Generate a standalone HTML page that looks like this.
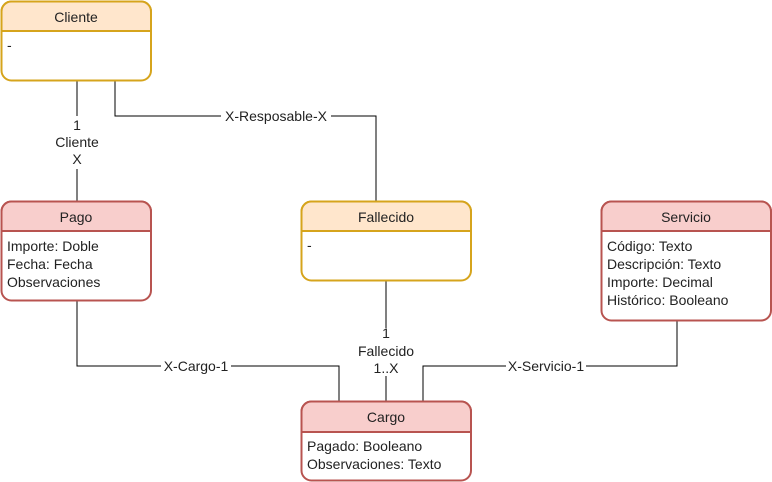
<!DOCTYPE html>
<html><head><meta charset="utf-8"><style>
body{margin:0;background:#fff;}
svg{display:block;font-family:"Liberation Sans",Arial,sans-serif;font-size:14px;}
</style></head><body>
<svg width="772" height="482" viewBox="0 0 772 482" xmlns="http://www.w3.org/2000/svg">
<g fill="none" stroke="#000" stroke-width="1">
<path d="M77 81V116M77 169V201"/>
<path d="M115 81V116H376V201"/>
<path d="M386 281V328M386 376V401"/>
<path d="M77 300V366H339V401"/>
<path d="M677 321V366H423V401"/>
</g>
<g text-anchor="middle" fill="#222">
<rect x="221" y="108" width="110" height="16" fill="#fff"/>
<text x="276" y="121">X-Resposable-X</text>
<text x="77" y="130">1</text><text x="77" y="147">Cliente</text><text x="77" y="164">X</text>
<text x="386" y="338">1</text><text x="386" y="356">Fallecido</text><text x="386" y="373">1..X</text>
<rect x="161" y="358" width="70" height="16" fill="#fff"/>
<text x="196" y="371">X-Cargo-1</text>
<rect x="506" y="358" width="80" height="16" fill="#fff"/>
<text x="546" y="371">X-Servicio-1</text>
</g>
<g stroke-width="2">
<rect x="1.5" y="1.5" width="149.5" height="79" rx="10" fill="#fff" stroke="#d6a41c"/>
<path d="M1.5 31V11.5A10 10 0 0 1 11.5 1.5H141A10 10 0 0 1 151 11.5V31Z" fill="#ffe6cc" stroke="#d6a41c"/>
<rect x="301.5" y="201.5" width="169.5" height="79" rx="10" fill="#fff" stroke="#d6a41c"/>
<path d="M301.5 231V211.5A10 10 0 0 1 311.5 201.5H461A10 10 0 0 1 471 211.5V231Z" fill="#ffe6cc" stroke="#d6a41c"/>
<rect x="1.5" y="201.5" width="149.5" height="99" rx="10" fill="#fff" stroke="#b85450"/>
<path d="M1.5 231V211.5A10 10 0 0 1 11.5 201.5H141A10 10 0 0 1 151 211.5V231Z" fill="#f8cecc" stroke="#b85450"/>
<rect x="601.5" y="201.5" width="169.5" height="119" rx="10" fill="#fff" stroke="#b85450"/>
<path d="M601.5 231V211.5A10 10 0 0 1 611.5 201.5H761A10 10 0 0 1 771 211.5V231Z" fill="#f8cecc" stroke="#b85450"/>
<rect x="301.5" y="401.5" width="169.5" height="79" rx="10" fill="#fff" stroke="#b85450"/>
<path d="M301.5 432V411.5A10 10 0 0 1 311.5 401.5H461A10 10 0 0 1 471 411.5V432Z" fill="#f8cecc" stroke="#b85450"/>
</g>
<g fill="#222" font-size="14">
<text x="76" y="22" text-anchor="middle">Cliente</text>
<text x="7" y="50">-</text>
<text x="386" y="222" text-anchor="middle">Fallecido</text>
<text x="307" y="250">-</text>
<text x="76" y="222" text-anchor="middle">Pago</text>
<text x="7" y="251">Importe: Doble</text>
<text x="7" y="269">Fecha: Fecha</text>
<text x="7" y="287">Observaciones</text>
<text x="686" y="222" text-anchor="middle">Servicio</text>
<text x="607" y="251">Código: Texto</text>
<text x="607" y="269">Descripción: Texto</text>
<text x="607" y="287">Importe: Decimal</text>
<text x="607" y="305">Histórico: Booleano</text>
<text x="386" y="422" text-anchor="middle">Cargo</text>
<text x="307" y="451">Pagado: Booleano</text>
<text x="307" y="469">Observaciones: Texto</text>
</g>
</svg>
</body></html>
